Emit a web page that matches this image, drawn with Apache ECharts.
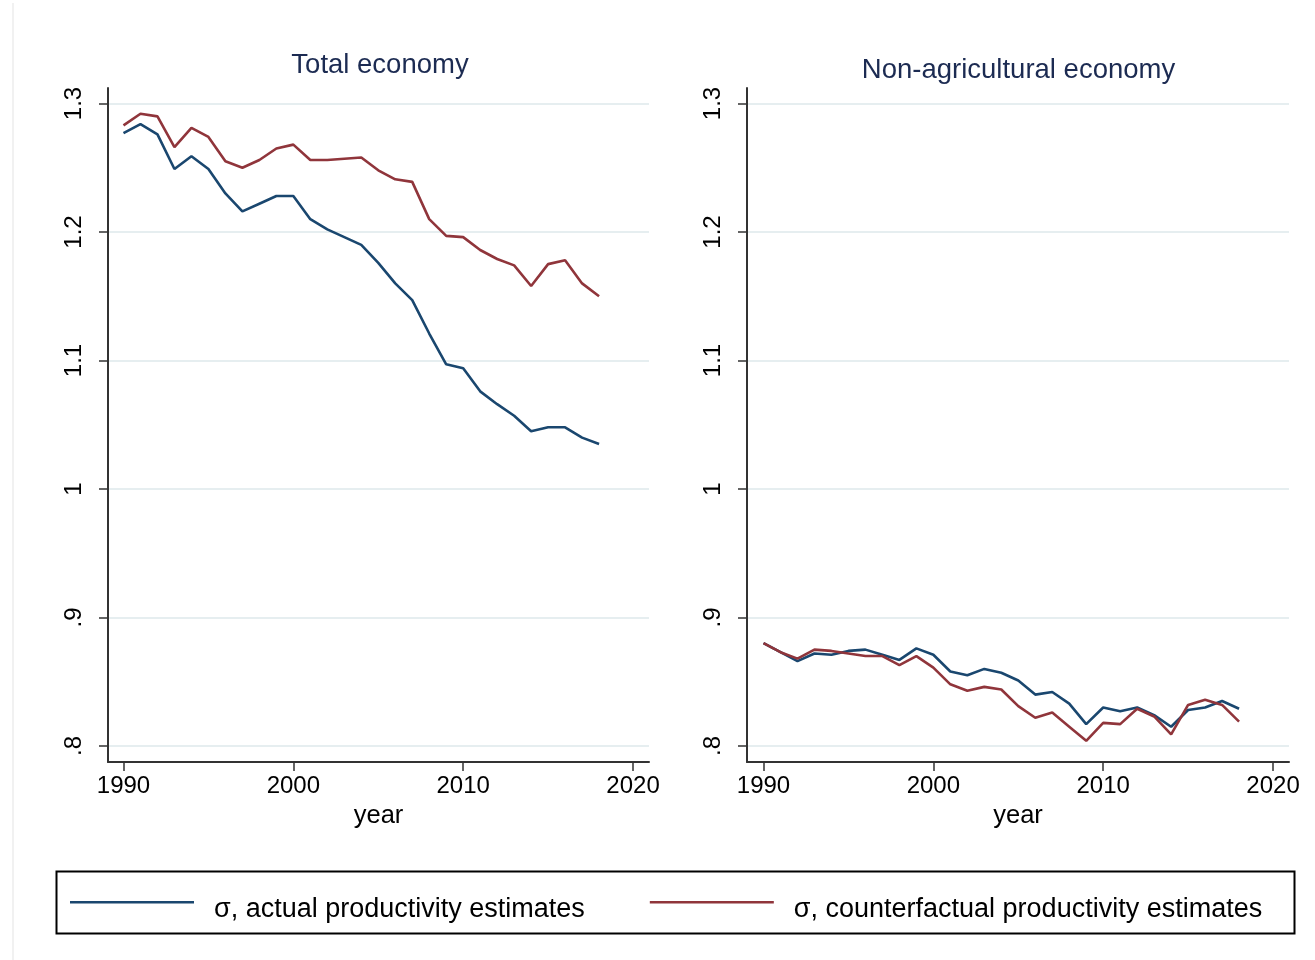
<!DOCTYPE html>
<html>
<head>
<meta charset="utf-8">
<title>σ over time: total and non-agricultural economy</title>
<script src="https://cdn.jsdelivr.net/npm/echarts@6/dist/echarts.min.js"></script>
<style>
  html, body { margin: 0; padding: 0; background: #ffffff; }
  #chart { width: 1315px; height: 960px; }
</style>
</head>
<body>
<div id="chart"></div>
<script>
// Years covered by both panels
const years = [1990, 1991, 1992, 1993, 1994, 1995, 1996, 1997, 1998, 1999,
               2000, 2001, 2002, 2003, 2004, 2005, 2006, 2007, 2008, 2009,
               2010, 2011, 2012, 2013, 2014, 2015, 2016, 2017, 2018];

// Total economy
const totalActual = [1.277, 1.284, 1.276, 1.249, 1.259, 1.249, 1.230, 1.216, 1.222, 1.228,
                     1.228, 1.210, 1.202, 1.196, 1.190, 1.176, 1.160, 1.147, 1.121, 1.097,
                     1.094, 1.076, 1.066, 1.057, 1.045, 1.048, 1.048, 1.040, 1.035];
const totalCounterfactual = [1.283, 1.292, 1.290, 1.266, 1.281, 1.274, 1.255, 1.250, 1.256, 1.265,
                             1.268, 1.256, 1.256, 1.257, 1.258, 1.248, 1.241, 1.239, 1.210, 1.197,
                             1.196, 1.186, 1.179, 1.174, 1.158, 1.175, 1.178, 1.160, 1.150];

// Non-agricultural economy
const nonAgActual = [0.880, 0.873, 0.866, 0.872, 0.871, 0.874, 0.875, 0.871, 0.867, 0.876,
                     0.871, 0.858, 0.855, 0.860, 0.857, 0.851, 0.840, 0.842, 0.833, 0.817,
                     0.830, 0.827, 0.830, 0.824, 0.815, 0.828, 0.830, 0.835, 0.829];
const nonAgCounterfactual = [0.880, 0.873, 0.868, 0.875, 0.874, 0.872, 0.870, 0.870, 0.863, 0.870,
                             0.861, 0.848, 0.843, 0.846, 0.844, 0.831, 0.822, 0.826, 0.815, 0.804,
                             0.818, 0.817, 0.829, 0.823, 0.809, 0.832, 0.836, 0.832, 0.819];

// Axis ticks and their printed labels
const xTickValues = [1990, 2000, 2010, 2020];
const xTickLabels = ['1990', '2000', '2010', '2020'];
const yTickValues = [0.8, 0.9, 1.0, 1.1, 1.2, 1.3];
const yTickLabels = ['.8', '.9', '1', '1.1', '1.2', '1.3'];

const panelTitles = ['Total economy', 'Non-agricultural economy'];
const seriesNames = ['σ, actual productivity estimates', 'σ, counterfactual productivity estimates'];

const BLUE = '#1a476f';
const RED = '#90353b';
const FONT = '"Liberation Sans", Arial, sans-serif';

const pair = (vals) => years.map((y, i) => [y, vals[i]]);

function lookup(values, labels) {
  return (v) => {
    const idx = values.findIndex(t => Math.abs(t - v) < 1e-6);
    return idx >= 0 ? labels[idx] : '';
  };
}

function xAxis(gridIndex, min, max) {
  return {
    type: 'value', gridIndex, min, max,
    name: 'year', nameLocation: 'middle', nameGap: 40,
    nameTextStyle: { fontFamily: FONT, fontSize: 25.5, color: '#000' },
    axisLine: { show: true, onZero: false, lineStyle: { color: '#333', width: 2 } },
    axisTick: { show: true, length: 9, customValues: xTickValues, lineStyle: { color: '#333', width: 1.5 } },
    axisLabel: { customValues: xTickValues, margin: 12, fontFamily: FONT, fontSize: 24, color: '#000',
                 formatter: lookup(xTickValues, xTickLabels) },
    splitLine: { show: false }
  };
}

function yAxis(gridIndex) {
  return {
    type: 'value', gridIndex, min: 0.78755, max: 1.31206,
    axisLine: { show: true, lineStyle: { color: '#333', width: 2 } },
    axisTick: { show: true, length: 9, customValues: yTickValues, lineStyle: { color: '#333', width: 1.5 } },
    axisLabel: { customValues: yTickValues, rotate: 90, margin: 22, fontFamily: FONT, fontSize: 24,
                 color: '#000', formatter: lookup(yTickValues, yTickLabels) },
    splitLine: { show: true, lineStyle: { color: '#e6eef0', width: 2 } }
  };
}

function line(name, vals, color, idx) {
  return {
    name, type: 'line', xAxisIndex: idx, yAxisIndex: idx,
    data: pair(vals), symbol: 'none', smooth: false, animation: false,
    lineStyle: { color, width: 2.6 }, itemStyle: { color }
  };
}

// Legend key: a thin bar at the top of a taller box, so the label sits a little below the line
const legendKey = 'path://M0,0H124V2.6H0Z M0,17L124,17';

const chart = echarts.init(document.getElementById('chart'), null, { renderer: 'canvas' });

chart.setOption({
  backgroundColor: '#ffffff',
  animation: false,
  title: [
    { text: panelTitles[0], left: 375, top: 46, textAlign: 'center',
      textStyle: { fontFamily: FONT, fontSize: 27.5, fontWeight: 'normal', color: '#1c2b52' } },
    { text: panelTitles[1], left: 1013.5, top: 51, textAlign: 'center',
      textStyle: { fontFamily: FONT, fontSize: 27.5, fontWeight: 'normal', color: '#1c2b52' } }
  ],
  grid: [
    { left: 108, top: 88, width: 541, height: 674 },
    { left: 747, top: 88, width: 542, height: 674 }
  ],
  xAxis: [xAxis(0, 1989.088, 2020.94), xAxis(1, 1989.028, 2020.94)],
  yAxis: [yAxis(0), yAxis(1)],
  legend: {
    data: seriesNames,
    icon: legendKey,
    left: 65, top: 891,
    itemWidth: 124, itemHeight: 17, itemGap: 65,
    itemStyle: { borderWidth: 0 },
    textStyle: { fontFamily: FONT, fontSize: 27, color: '#000', padding: [0, 0, 0, 15] },
    selectedMode: false
  },
  graphic: [
    { type: 'rect', left: 54, top: 869, shape: { width: 1238, height: 62 },
      style: { fill: 'none', stroke: '#000', lineWidth: 2 }, z: 10 },
    { type: 'line', shape: { x1: 13, y1: 3, x2: 13, y2: 960 },
      style: { stroke: '#ececec', lineWidth: 1.5 } }
  ],
  series: [
    line(seriesNames[0], totalActual, BLUE, 0),
    line(seriesNames[1], totalCounterfactual, RED, 0),
    line(seriesNames[0], nonAgActual, BLUE, 1),
    line(seriesNames[1], nonAgCounterfactual, RED, 1)
  ]
});
</script>
</body>
</html>
